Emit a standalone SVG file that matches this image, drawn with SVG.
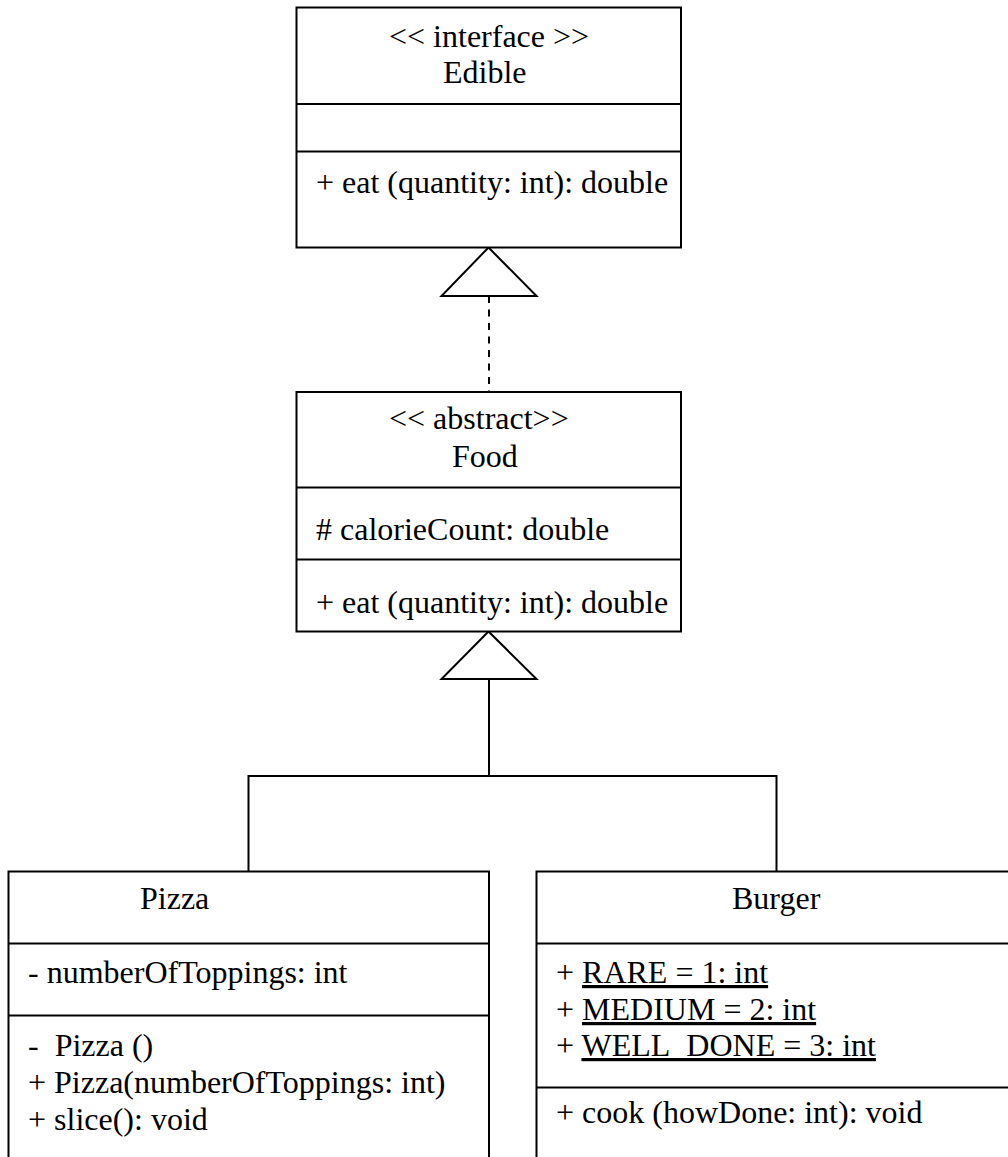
<svg xmlns="http://www.w3.org/2000/svg" width="1008" height="1157" viewBox="0 0 1008 1157">
<style>
.box{fill:#fff;stroke:#000;stroke-width:2}
.div{stroke:#000;stroke-width:2}
.t{font-family:"Liberation Serif","Times New Roman",serif;font-size:32px;fill:#000;white-space:pre}
.u{text-decoration:underline}
.conn{fill:none;stroke:#000;stroke-width:2}
.tri{fill:#fff;stroke:#000;stroke-width:2;stroke-linejoin:miter}
</style>
<rect width="1008" height="1157" fill="#fff"/>
<g id="connectors">
<line class="conn" x1="489" y1="296" x2="489" y2="392" stroke-dasharray="7 6.5"/>
<polygon class="tri" points="488.5,247.5 441.5,296 536.5,296"/>
<path class="conn" d="M489 679 V776 M248.5 776 H776.5 M248.5 775 V871.5 M776.5 775 V871.5"/>
<polygon class="tri" points="488.5,631.5 441.5,679 536.5,679"/>
</g>
<g id="edible">
<rect class="box" x="296.5" y="7.5" width="384.5" height="240"/>
<line class="div" x1="296.5" y1="104" x2="681" y2="104"/>
<line class="div" x1="296.5" y1="151.5" x2="681" y2="151.5"/>
<text class="t" x="389" y="47">&lt;&lt; interface &gt;&gt;</text>
<text class="t" x="443" y="83">Edible</text>
<text class="t" x="316" y="193">+ eat (quantity: int): double</text>
</g>
<g id="food">
<rect class="box" x="296.5" y="392" width="384.5" height="239.5"/>
<line class="div" x1="296.5" y1="487.5" x2="681" y2="487.5"/>
<line class="div" x1="296.5" y1="559.5" x2="681" y2="559.5"/>
<text class="t" x="389" y="429">&lt;&lt; abstract&gt;&gt;</text>
<text class="t" x="452" y="467">Food</text>
<text class="t" x="316" y="540"># calorieCount: double</text>
<text class="t" x="316" y="613">+ eat (quantity: int): double</text>
</g>
<g id="pizza">
<path class="box" d="M8.5 1162 V871.5 H489 V1162"/>
<line class="div" x1="8.5" y1="943.5" x2="489" y2="943.5"/>
<line class="div" x1="8.5" y1="1015.5" x2="489" y2="1015.5"/>
<text class="t" x="140" y="909">Pizza</text>
<text class="t" x="28" y="983">- numberOfToppings: int</text>
<text class="t" x="28" y="1056" xml:space="preserve">-  Pizza ()</text>
<text class="t" x="28" y="1093">+ Pizza(numberOfToppings: int)</text>
<text class="t" x="28" y="1130">+ slice(): void</text>
</g>
<g id="burger">
<path class="box" d="M536.5 1162 V871.5 H1012"/>
<line class="div" x1="536.5" y1="943.5" x2="1012" y2="943.5"/>
<line class="div" x1="536.5" y1="1087.5" x2="1012" y2="1087.5"/>
<text class="t" x="732" y="909">Burger</text>
<text class="t" x="556" y="983">+ <tspan class="u">RARE = 1: int</tspan></text>
<text class="t" x="556" y="1020">+ <tspan class="u">MEDIUM = 2: int</tspan></text>
<text class="t" x="556" y="1056">+ <tspan class="u">WELL_DONE = 3: int</tspan></text>
<text class="t" x="556" y="1123">+ cook (howDone: int): void</text>
</g>
</svg>
